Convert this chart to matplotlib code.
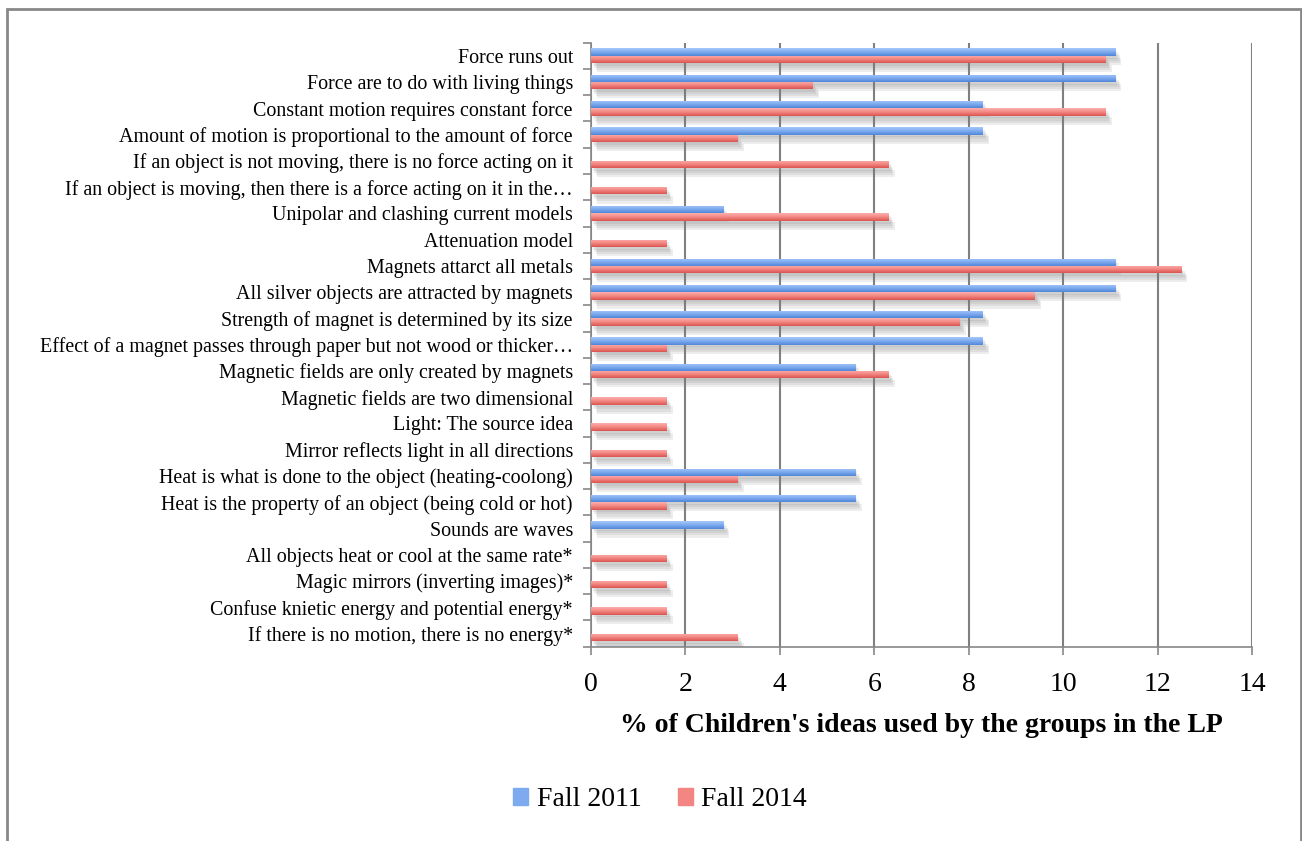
import numpy as np
import matplotlib
matplotlib.use("Agg")
import matplotlib.pyplot as plt
from matplotlib import patheffects
from matplotlib.colors import LinearSegmentedColormap
from matplotlib.patches import Rectangle

categories = [
    "Force runs out",
    "Force are to do with living things",
    "Constant motion requires constant force",
    "Amount of motion is proportional to the amount of force",
    "If an object is not moving, there is no force acting on it",
    "If an object is moving, then there is a force acting on it in the\u2026",
    "Unipolar and clashing current models",
    "Attenuation model",
    "Magnets attarct all metals",
    "All silver objects are attracted by magnets",
    "Strength of magnet is determined by its size",
    "Effect of a magnet passes through paper but not wood or thicker\u2026",
    "Magnetic fields are only created by magnets",
    "Magnetic fields are two dimensional",
    "Light: The source idea",
    "Mirror reflects light in all directions",
    "Heat is what is done to the object (heating-coolong)",
    "Heat is the property of an object (being cold or hot)",
    "Sounds are waves",
    "All objects heat or cool at the same rate*",
    "Magic mirrors (inverting images)*",
    "Confuse knietic energy and potential energy*",
    "If there is no motion, there is no energy*",
]

fall_2011 = [11.1, 11.1, 8.3, 8.3, 0, 0, 2.8, 0, 11.1, 11.1, 8.3, 8.3, 5.6,
             0, 0, 0, 5.6, 5.6, 2.8, 0, 0, 0, 0]
fall_2014 = [10.9, 4.7, 10.9, 3.1, 6.3, 1.6, 6.3, 1.6, 12.5, 9.4, 7.8, 1.6, 6.3,
             1.6, 1.6, 1.6, 3.1, 1.6, 0, 1.6, 1.6, 1.6, 3.1]

series_names = ["Fall 2011", "Fall 2014"]
x_ticks = [0, 2, 4, 6, 8, 10, 12, 14]

blue_cmap = LinearSegmentedColormap.from_list("b", ["#a4c8fa", "#7eaaf0", "#4f86d6"])
red_cmap = LinearSegmentedColormap.from_list("r", ["#fbb0ad", "#f38682", "#d9544f"])

fig = plt.figure(figsize=(13.02, 8.41), dpi=100)
ax = fig.add_axes([591 / 1302, 1 - 646.7 / 841, (1252 - 591) / 1302, (646.7 - 42.7) / 841])

n = len(categories)
y = np.arange(n)
h = 0.28

grad = np.linspace(0, 1, 64).reshape(-1, 1)

# soft drop shadow built from a few stacked offset layers
shadow = [patheffects.SimplePatchShadow(offset=(dx, dy), shadow_rgbFace="#7a7a7a", alpha=0.13)
          for dx, dy in [(1.5, -2), (2.5, -3.5), (3.5, -5), (4.5, -6.5)]]


def gradient_bars(ys, vals, cmap, label):
    bars = ax.barh(ys, vals, height=h, color=cmap(0.5), label=label, zorder=3,
                   linewidth=0, path_effects=shadow + [patheffects.Normal()])
    for b in bars:
        w = b.get_width()
        if w <= 0:
            continue
        y0 = b.get_y()
        im = ax.imshow(grad, cmap=cmap, extent=[0, w, y0 + h, y0], aspect="auto",
                       interpolation="bilinear", zorder=4)
        im.set_clip_path(b)
    return bars


gradient_bars(y - h / 2, fall_2011, blue_cmap, series_names[0])
gradient_bars(y + h / 2, fall_2014, red_cmap, series_names[1])

ax.set_xlim(0, 14)
ax.set_ylim(n - 0.5, -0.5)
ax.set_xticks(x_ticks)
ax.set_xticklabels([str(t) for t in x_ticks], fontsize=20, family="Liberation Serif")

ax.set_yticks(y)
ax.set_yticklabels(categories, fontsize=14.4, family="Liberation Serif")
ax.tick_params(axis="y", which="major", length=0, pad=13)
ax.set_yticks(np.arange(n + 1) - 0.5, minor=True)
ax.tick_params(axis="y", which="minor", length=6, width=1.2, color="#888888")
ax.tick_params(axis="x", which="major", length=6, width=1.2, color="#888888", pad=12)

ax.grid(axis="x", color="#808080", linewidth=1.5, zorder=0)
ax.set_axisbelow(True)
for side in ["top", "right"]:
    ax.spines[side].set_visible(False)
for side in ["left", "bottom"]:
    ax.spines[side].set_color("#888888")
    ax.spines[side].set_linewidth(1.2)

ax.set_xlabel("% of Children's ideas used by the groups in the LP", fontsize=20,
              fontweight="bold", family="Liberation Serif", labelpad=12)

handles = [Rectangle((0, 0), 1, 1, color=blue_cmap(0.5)), Rectangle((0, 0), 1, 1, color=red_cmap(0.5))]
fig.legend(handles, series_names, loc="center", bbox_to_anchor=(660 / 1302, 1 - 800 / 841),
           ncol=2, frameon=False, prop={"family": "Liberation Serif", "size": 20},
           handlelength=0.55, handleheight=0.55, handletextpad=0.3, columnspacing=1.3)

# outer chart frame
fig.patches.append(Rectangle((7 / 1302, -0.01), (1300.5 - 7) / 1302, 1 - 8.5 / 841 + 0.01,
                             transform=fig.transFigure, fill=False, edgecolor="#888888",
                             linewidth=2, zorder=0))

fig.savefig("out.png", dpi=100)
